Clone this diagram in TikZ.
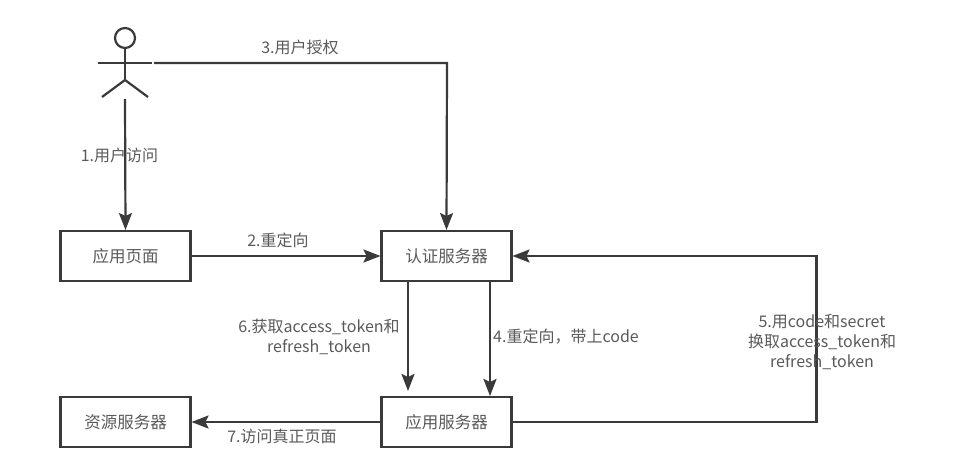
\documentclass[tikz,border=0pt]{standalone}
\usepackage{fontspec}
\setmainfont{Noto Sans CJK SC}
\usetikzlibrary{arrows.meta}

\definecolor{linecol}{HTML}{3A3A3A}
\definecolor{textcol}{HTML}{5A5A5A}

\begin{document}
\begin{tikzpicture}[x=1pt, y=-1pt, >={Stealth[length=17pt,width=13pt,inset=3pt]}]
    \tikzset{
      box/.style={draw=linecol, line width=2.2pt, minimum width=130pt, minimum height=50pt, inner sep=0pt, outer sep=1pt, text=textcol, font=\fontsize{16.5}{20}\selectfont},
      link/.style={draw=linecol, line width=2.2pt},
      lbl/.style={text=textcol, align=center, inner sep=0pt, font=\fontsize{16}{20}\selectfont}
    }
    \useasboundingbox (0,0) rectangle (960,474);
    \fill[white] (0,0) rectangle (960,474);

    % --- 用户 ---
    \coordinate (hand) at (154,63);
    \coordinate (foot) at (125,99);
    \coordinate (turn3) at (447,63);
    \draw[link] (125,38) circle (10);
    \draw[link] (125,48) -- (125,80);
    \draw[link] (98,63) -- (152,63);
    \draw[link] (102,97) -- (125,80) -- (148,97);

    % --- 四个方框 ---
    \node[box] (page) at (125.5,256) {应用页面};
    \node[box] (auth) at (446.5,256) {认证服务器};
    \node[box] (app) at (446.5,422) {应用服务器};
    \node[box] (res) at (125.5,422) {资源服务器};

    % --- 连线 ---
    \draw[link, ->] (foot) -- (page.north);
    \draw[link, ->] (hand) -- (turn3) -- (auth.north);
    \draw[link, ->] (page.east) -- (auth.west);
    \draw[link, ->] (auth.south -| 490,0) -- (app.north -| 490,0);
    \draw[link, ->, shorten >=5pt] (auth.south -| 408,0) -- (app.north -| 408,0);
    \draw[link, ->] (app.east) -- (816.5,422) -- (816.5,256) -- (auth.east);
    \draw[link, ->] (app.west) -- (res.east);

    % --- 文字 ---
    \node[lbl] (l1) at (119.5,155) {1.用户访问};
    \node[lbl] (l2) at (278,240) {2.重定向};
    \node[lbl] (l3) at (300,47) {3.用户授权};
    \node[lbl] (l4) at (566,337) {4.重定向，带上code};
    \node[lbl] (l5) at (822,342) {5.用code和secret\\换取access\_token和\\refresh\_token};
    \node[lbl] (l6) at (319,337) {6.获取access\_token和\\refresh\_token};
    \node[lbl] (l7) at (282,436) {7.访问真正页面};
\end{tikzpicture}
\end{document}
